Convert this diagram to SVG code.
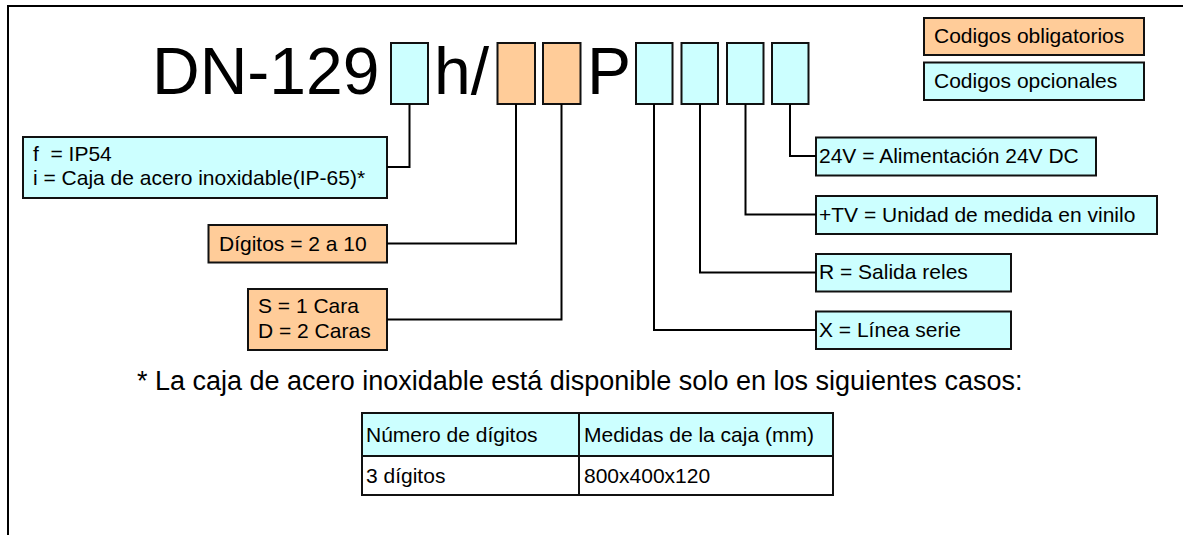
<svg xmlns="http://www.w3.org/2000/svg" width="1183" height="535" viewBox="0 0 1183 535">
<style>
text{font-family:"Liberation Sans",Arial,sans-serif;fill:#000;}
.big{font-size:66px;}
.t{font-size:21px;white-space:pre;}
.fn{font-size:27px;}
.tb{font-size:21px;}
.opt{fill:#CCFFFF;stroke:#111;stroke-width:2;}
.obl{fill:#FFCC99;stroke:#111;stroke-width:2;}
.cell{fill:#fff;stroke:#111;stroke-width:2;}
.ln{fill:none;stroke:#000;stroke-width:2;}
</style>
<rect x="0" y="0" width="1183" height="535" fill="#fff"/>
<g id="frame">
<path class="ln" d="M8,535 V6 H1183"/>
</g>
<g id="code">
<text class="big" x="152" y="94">DN-129</text>
<text class="big" x="434" y="94">h/</text>
<text class="big" x="587" y="94">P</text>
</g>
<g id="slot-ip"><rect class="opt" x="391" y="43" width="37" height="61"/></g>
<g id="slot-dig"><rect class="obl" x="497.5" y="43" width="37.5" height="61"/></g>
<g id="slot-car"><rect class="obl" x="543" y="43" width="37.5" height="61"/></g>
<g id="slot-x"><rect class="opt" x="636" y="43" width="36.5" height="61"/></g>
<g id="slot-r"><rect class="opt" x="681.5" y="43" width="36.5" height="61"/></g>
<g id="slot-tv"><rect class="opt" x="727" y="43" width="36.5" height="61"/></g>
<g id="slot-24v"><rect class="opt" x="772" y="43" width="36.5" height="61"/></g>
<g id="legend-obl"><rect class="obl" x="924" y="18" width="220" height="37"/><text class="t" x="934" y="43">Codigos obligatorios</text></g>
<g id="legend-opt"><rect class="opt" x="924" y="62.5" width="220" height="37.5"/><text class="t" x="934" y="88">Codigos opcionales</text></g>
<g id="node-ip"><rect class="opt" x="23" y="137" width="364" height="61"/><text class="t" x="33" y="161">f  = IP54</text><text class="t" x="33" y="185">i = Caja de acero inoxidable(IP-65)*</text></g>
<g id="node-dig"><rect class="obl" x="208.5" y="225" width="178.5" height="37.5"/><text class="t" x="219" y="251">Dígitos = 2 a 10</text></g>
<g id="node-car"><rect class="obl" x="248" y="289" width="139" height="61"/><text class="t" x="258" y="313">S = 1 Cara</text><text class="t" x="258" y="338">D = 2 Caras</text></g>
<g id="node-24v"><rect class="opt" x="816" y="137.5" width="280" height="38"/><text class="t" x="819" y="163">24V = Alimentación 24V DC</text></g>
<g id="node-tv"><rect class="opt" x="816" y="196" width="341" height="38"/><text class="t" x="819" y="222">+TV = Unidad de medida en vinilo</text></g>
<g id="node-r"><rect class="opt" x="816" y="254" width="195" height="37.5"/><text class="t" x="819" y="279">R = Salida reles</text></g>
<g id="node-x"><rect class="opt" x="816" y="311.5" width="195" height="37.5"/><text class="t" x="819" y="337">X = Línea serie</text></g>
<g id="connectors">
<path class="ln" d="M409.5,104 V167 H387"/>
<path class="ln" d="M516,104 V243.5 H387"/>
<path class="ln" d="M561.5,104 V319.5 H387"/>
<path class="ln" d="M654,104 V330 H816"/>
<path class="ln" d="M700,104 V272.5 H816"/>
<path class="ln" d="M745.5,104 V214.5 H816"/>
<path class="ln" d="M790,104 V156 H816"/>
</g>
<g id="footnote"><text class="fn" x="137" y="390">* La caja de acero inoxidable está disponible solo en los siguientes casos:</text></g>
<g id="table">
<rect class="opt" x="362" y="413" width="217" height="43"/>
<rect class="opt" x="579" y="413" width="254" height="43"/>
<rect class="cell" x="362" y="456" width="217" height="39"/>
<rect class="cell" x="579" y="456" width="254" height="39"/>
<text class="tb" x="366" y="442">Número de dígitos</text>
<text class="tb" x="584" y="442">Medidas de la caja (mm)</text>
<text class="tb" x="366" y="483">3 dígitos</text>
<text class="tb" x="584" y="483">800x400x120</text>
</g>
</svg>
